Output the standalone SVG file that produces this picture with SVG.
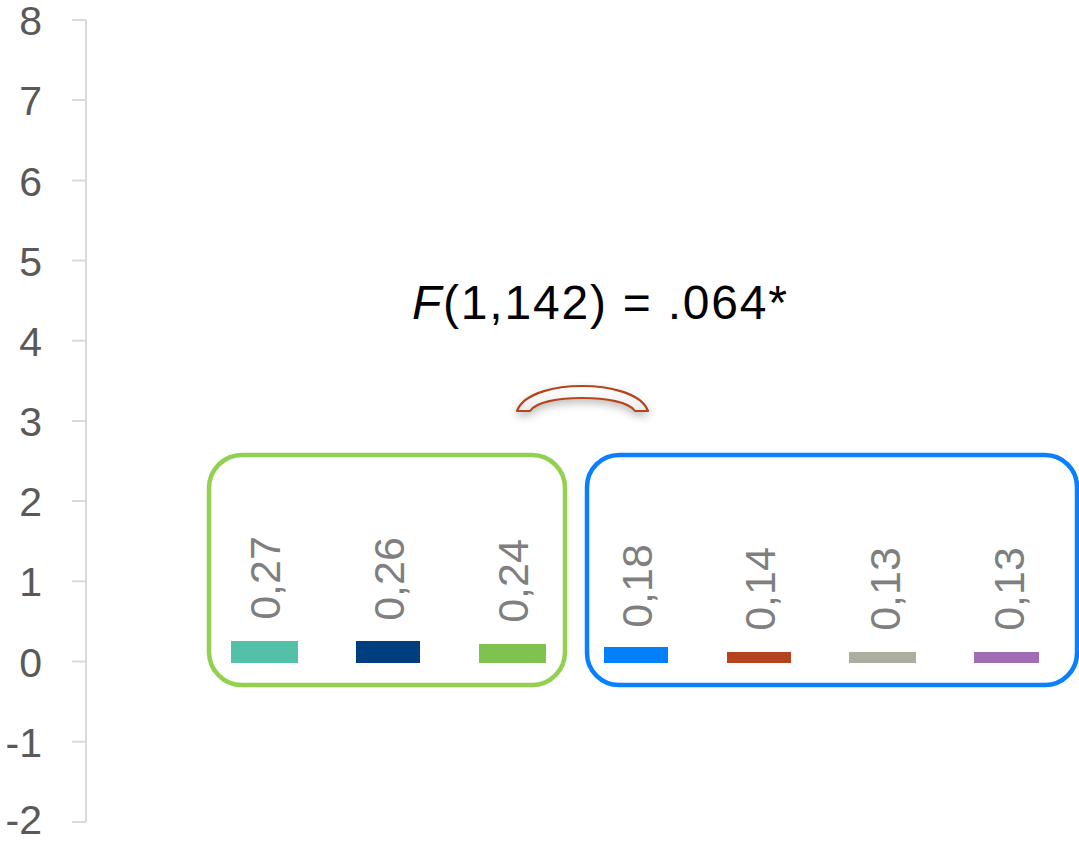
<svg xmlns="http://www.w3.org/2000/svg" width="1079" height="842" viewBox="0 0 1079 842">
<style>
.ax{font-family:"Liberation Sans",Arial,sans-serif;font-size:41px;fill:#595959;text-anchor:end}
.val{font-family:"Liberation Sans",Arial,sans-serif;font-size:43px;fill:#7f7f7f;text-anchor:middle}
.title{font-family:"Liberation Sans",Arial,sans-serif;font-size:48px;fill:#000}
.tick{stroke:#d9d9d9;stroke-width:2}
</style>
<defs>
<filter id="sh" x="-20%" y="-50%" width="140%" height="220%">
<feDropShadow dx="0" dy="4" stdDeviation="4" flood-color="#000" flood-opacity="0.25"/>
</filter>
<linearGradient id="ag" x1="0" y1="0" x2="0" y2="1">
<stop offset="0" stop-color="#ffffff"/>
<stop offset="1" stop-color="#ececec"/>
</linearGradient>
</defs>
<rect width="1079" height="842" fill="#fff"/>
<g id="axis">
<line class="tick" x1="86" y1="20" x2="86" y2="822"/>
<line class="tick" x1="72" y1="20" x2="86" y2="20"/>
<line class="tick" x1="72" y1="100" x2="86" y2="100"/>
<line class="tick" x1="72" y1="180.5" x2="86" y2="180.5"/>
<line class="tick" x1="72" y1="260.5" x2="86" y2="260.5"/>
<line class="tick" x1="72" y1="340.7" x2="86" y2="340.7"/>
<line class="tick" x1="72" y1="421" x2="86" y2="421"/>
<line class="tick" x1="72" y1="501" x2="86" y2="501"/>
<line class="tick" x1="72" y1="581.3" x2="86" y2="581.3"/>
<line class="tick" x1="72" y1="661.5" x2="86" y2="661.5"/>
<line class="tick" x1="72" y1="741.7" x2="86" y2="741.7"/>
<line class="tick" x1="72" y1="822" x2="86" y2="822"/>
<text class="ax" x="42" y="35">8</text>
<text class="ax" x="42" y="115">7</text>
<text class="ax" x="42" y="195.5">6</text>
<text class="ax" x="42" y="275.5">5</text>
<text class="ax" x="42" y="355.7">4</text>
<text class="ax" x="42" y="436">3</text>
<text class="ax" x="42" y="516">2</text>
<text class="ax" x="42" y="596.3">1</text>
<text class="ax" x="42" y="676.5">0</text>
<text class="ax" x="42" y="756.7">-1</text>
<text class="ax" x="42" y="834">-2</text>
</g>
<g id="bars">
<rect x="231" y="641" width="67" height="22" fill="#53c1a9"/>
<rect x="356" y="641" width="64" height="22" fill="#003f7f"/>
<rect x="479" y="644" width="67" height="19" fill="#7fc250"/>
<rect x="604" y="647" width="64" height="16" fill="#0080ff"/>
<rect x="727" y="652" width="64" height="11" fill="#b5441e"/>
<rect x="849" y="652" width="67" height="11" fill="#adaea0"/>
<rect x="974" y="652" width="65" height="11" fill="#9f6bb2"/>
</g>
<g id="labels">
<text class="val" transform="translate(280,578) rotate(-90)">0,27</text>
<text class="val" transform="translate(404,579) rotate(-90)">0,26</text>
<text class="val" transform="translate(528,581) rotate(-90)">0,24</text>
<text class="val" transform="translate(652,586) rotate(-90)">0,18</text>
<text class="val" transform="translate(775,589) rotate(-90)">0,14</text>
<text class="val" transform="translate(900,589) rotate(-90)">0,13</text>
<text class="val" transform="translate(1024,589) rotate(-90)">0,13</text>
</g>
<g id="group-green">
<rect x="209" y="455" width="356" height="230" rx="33" ry="33" fill="none" stroke="#92d050" stroke-width="4.5"/>
</g>
<g id="group-blue">
<rect x="587" y="455" width="490" height="230" rx="32" ry="32" fill="none" stroke="#0a80ff" stroke-width="4.5"/>
</g>
<g id="connectors">
<path id="arc" d="M517,411 C524,392 558,386 582,386 C606,386 641,392 648,411 L635,411 C629,402 606,398 582,398 C558,398 536,402 530,411 Z" fill="url(#ag)" stroke="#b5441e" stroke-width="2.2" stroke-linejoin="round" filter="url(#sh)"/>
</g>
<g id="title">
<text class="title" x="412" y="319" textLength="375" lengthAdjust="spacing"><tspan font-style="italic">F</tspan>(1,142) = .064*</text>
</g>
</svg>
